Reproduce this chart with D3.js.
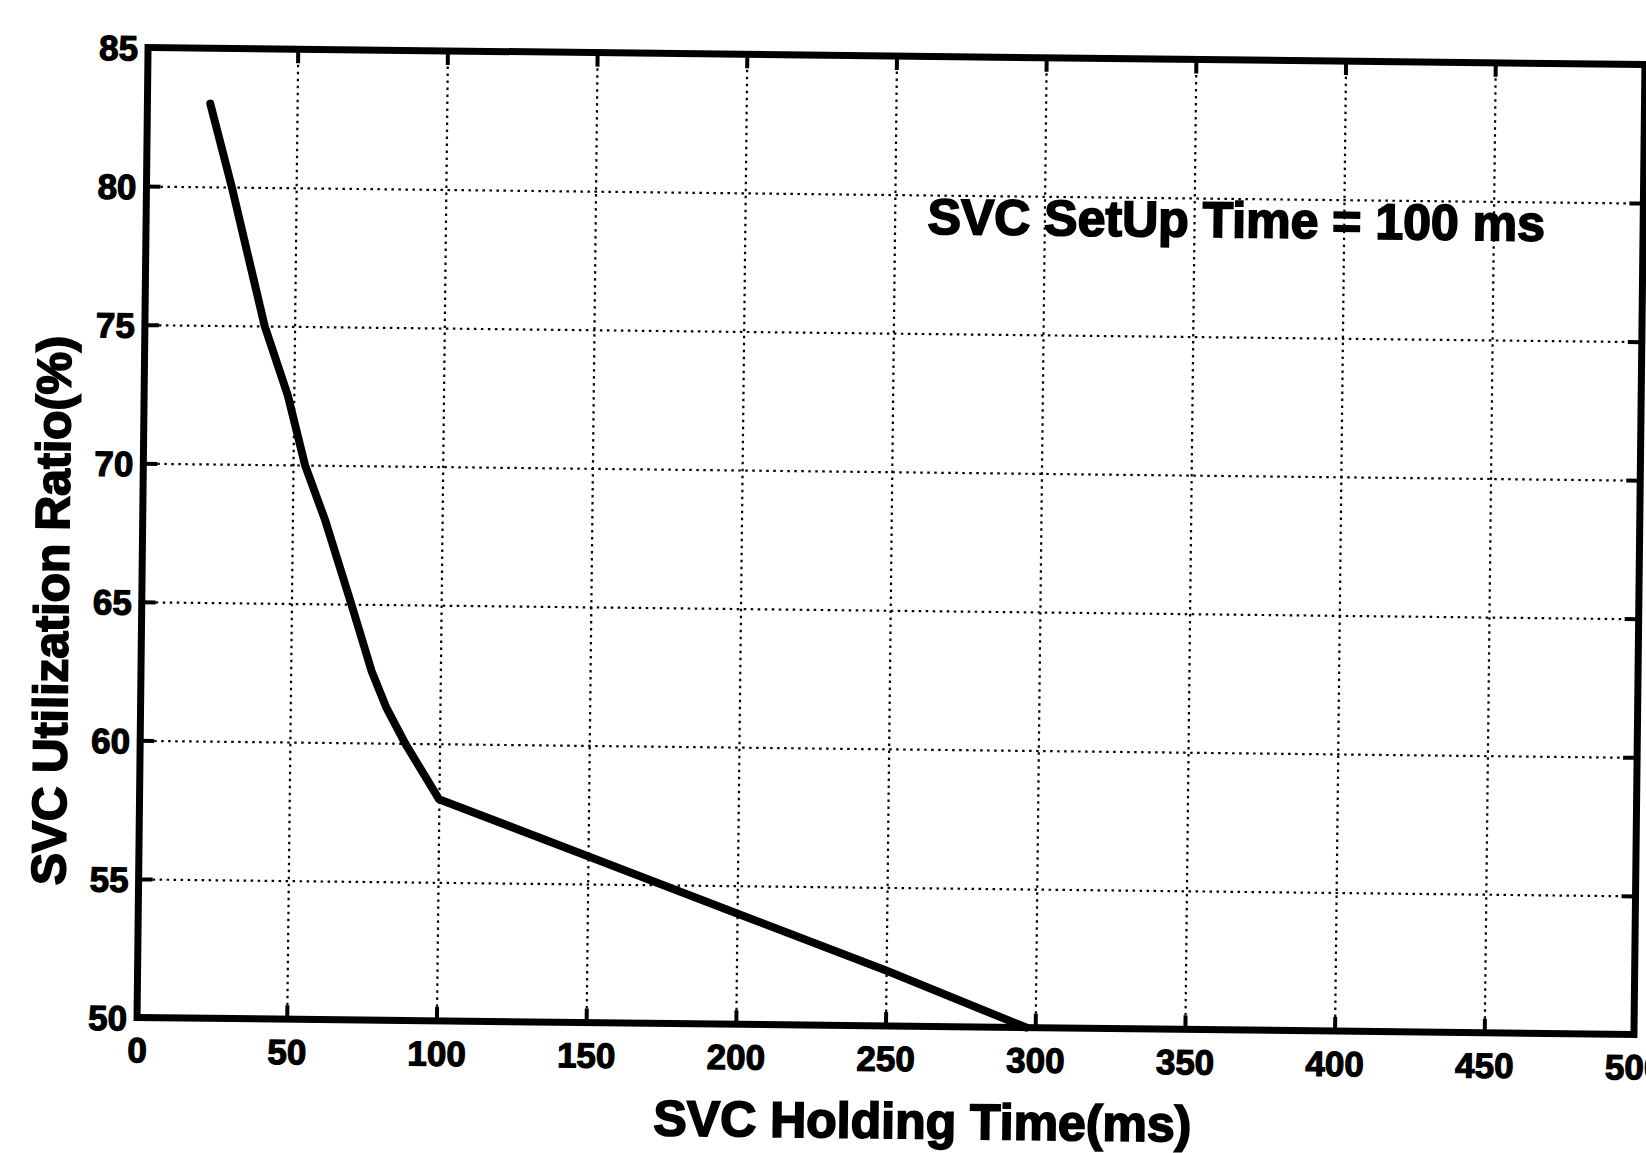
<!DOCTYPE html>
<html><head><meta charset="utf-8">
<script src="https://cdn.jsdelivr.net/npm/d3@7"></script>
<style>body{margin:0;background:#fff} svg{display:block}</style>
</head><body>
<svg id="chart" width="1646" height="1153"></svg>
<script>
// ---- data ----
const holdingTime = [21, 28.5, 40, 48, 54, 61, 70, 77, 82, 88.5, 100, 150, 200, 250, 297];
const utilization = [83, 80, 75, 72.5, 70, 68, 65, 62.6, 61.3, 60, 58, 56, 54, 52, 50];
const xTicks = [0, 50, 100, 150, 200, 250, 300, 350, 400, 450, 500];
const yTicks = [50, 55, 60, 65, 70, 75, 80, 85];
const xDomain = [0, 500];
const yDomain = [50, 85];
const xTitle = "SVC Holding Time(ms)";
const yTitle = "SVC Utilization Ratio(%)";
const noteText = "SVC SetUp Time = 100 ms";
const notePos = [261, 78.6];

// ---- layout ----
const W = 1646, H = 1153;
const L = 142.5, R = 1639.5, T = 56, B = 1026;
const cx = (L + R) / 2, cy = (T + B) / 2;
const tilt = 0.65; // scan is slightly rotated
const FONT = "'Liberation Sans', Arial, sans-serif";

const svg = d3.select("#chart");
svg.append("rect").attr("width", W).attr("height", H).attr("fill", "#fff");
const g = svg.append("g").attr("transform", `rotate(${tilt},${cx},${cy})`);

const x = d3.scaleLinear().domain(xDomain).range([L, R]);
const y = d3.scaleLinear().domain(yDomain).range([B, T]);

// grid
const gx = g.append("g").attr("transform", `translate(0,${B})`)
  .call(d3.axisBottom(x).tickValues(xTicks.slice(1, -1)).tickSize(-(B - T)).tickFormat(""));
const gy = g.append("g").attr("transform", `translate(${L},0)`)
  .call(d3.axisLeft(y).tickValues(yTicks.slice(1, -1)).tickSize(-(R - L)).tickFormat(""));
[gx, gy].forEach(s => {
  s.select(".domain").remove();
  s.selectAll("line").attr("stroke", "#000").attr("stroke-width", 2.2)
    .attr("stroke-dasharray", "2.5,4.5");
});

// ticks on all four sides
const tk = 14;
const axB = g.append("g").attr("transform", `translate(0,${B})`)
  .call(d3.axisBottom(x).tickValues(xTicks).tickSizeInner(-tk).tickSizeOuter(0).tickPadding(0));
const axT = g.append("g").attr("transform", `translate(0,${T})`)
  .call(d3.axisTop(x).tickValues(xTicks).tickSizeInner(-tk).tickSizeOuter(0).tickFormat(""));
const axL = g.append("g").attr("transform", `translate(${L},0)`)
  .call(d3.axisLeft(y).tickValues(yTicks).tickSizeInner(-tk).tickSizeOuter(0).tickPadding(0));
const axR = g.append("g").attr("transform", `translate(${R},0)`)
  .call(d3.axisRight(y).tickValues(yTicks).tickSizeInner(-tk).tickSizeOuter(0).tickFormat(""));
[axB, axT, axL, axR].forEach(s => {
  s.select(".domain").remove();
  s.selectAll("line").attr("stroke", "#000").attr("stroke-width", 4);
});
axB.selectAll("text").attr("y", 45).attr("dy", null)
  .attr("font-family", FONT).attr("font-weight", "bold").attr("font-size", 35)
  .attr("fill", "#000").attr("stroke", "#000").attr("stroke-width", 1.2);
axL.selectAll("text").attr("x", -10).attr("dy", "0.36em")
  .attr("font-family", FONT).attr("font-weight", "bold").attr("font-size", 35)
  .attr("fill", "#000").attr("stroke", "#000").attr("stroke-width", 1.2);

// frame
g.append("rect").attr("x", L).attr("y", T).attr("width", R - L).attr("height", B - T)
  .attr("fill", "none").attr("stroke", "#000").attr("stroke-width", 7);

// data line
const line = d3.line().x((d, i) => x(holdingTime[i])).y(d => y(d));
g.append("path").datum(utilization).attr("d", line)
  .attr("fill", "none").attr("stroke", "#000").attr("stroke-width", 8)
  .attr("stroke-linejoin", "round").attr("stroke-linecap", "round");

// annotation
g.append("text").attr("x", x(notePos[0])).attr("y", y(notePos[1]))
  .attr("font-family", FONT).attr("font-weight", "bold").attr("font-size", 50)
  .attr("fill", "#000").attr("stroke", "#000").attr("stroke-width", 1.8)
  .text(noteText);

// axis titles
g.append("text").attr("x", 929).attr("y", 1138).attr("text-anchor", "middle")
  .attr("font-family", FONT).attr("font-weight", "bold").attr("font-size", 50)
  .attr("fill", "#000").attr("stroke", "#000").attr("stroke-width", 1.8)
  .text(xTitle);
g.append("text").attr("transform", `translate(69,620) rotate(-90)`).attr("text-anchor", "middle")
  .attr("font-family", FONT).attr("font-weight", "bold").attr("font-size", 48)
  .attr("fill", "#000").attr("stroke", "#000").attr("stroke-width", 1.8)
  .text(yTitle);
</script>
</body></html>
